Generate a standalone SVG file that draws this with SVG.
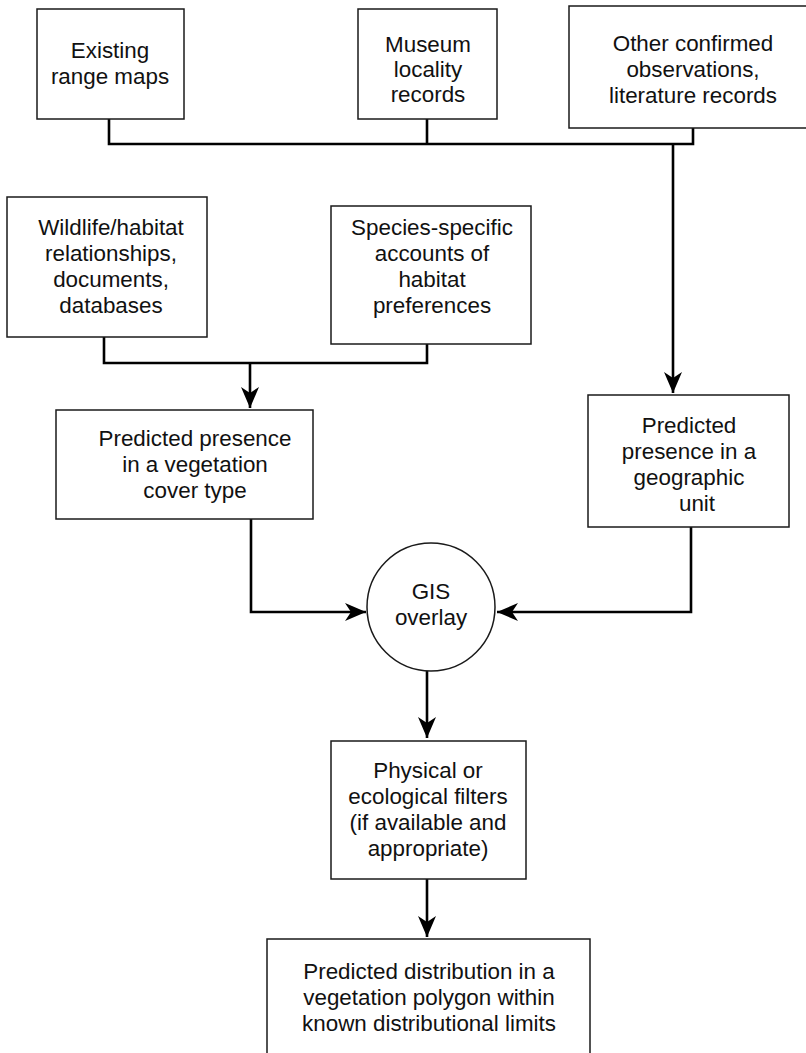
<svg xmlns="http://www.w3.org/2000/svg" width="806" height="1053" viewBox="0 0 806 1053">
  <style>
    .box { fill: #ffffff; stroke: #1a1a1a; stroke-width: 1.5; }
    .lbl { font-family: "Liberation Sans", Arial, Helvetica, sans-serif; font-size: 22.4px; fill: #111111; text-anchor: middle; }
    .wire { fill: none; stroke: #000000; stroke-width: 2.6; stroke-linejoin: miter; stroke-linecap: butt; }
  </style>
  <defs>
    <marker id="arrow" markerUnits="userSpaceOnUse" markerWidth="22" markerHeight="18" refX="21" refY="9" orient="auto" viewBox="0 0 22 18">
      <path d="M0,0 L21,9 L0,18 L6,9 z" fill="#000000"/>
    </marker>
  </defs>

  <rect width="806" height="1053" fill="#ffffff"/>

  <!-- connectors -->
  <g id="connectors">
    <path class="wire" d="M109,119 V144 H693 V128"/>
    <path class="wire" d="M427,119 V144"/>
    <path class="wire" d="M673,144 V393" marker-end="url(#arrow)"/>
    <path class="wire" d="M104,337 V363 H427 V344"/>
    <path class="wire" d="M250,363 V408" marker-end="url(#arrow)"/>
    <path class="wire" d="M251,519 V612 H366" marker-end="url(#arrow)"/>
    <path class="wire" d="M691,527 V612 H497" marker-end="url(#arrow)"/>
    <path class="wire" d="M427,671 V738" marker-end="url(#arrow)"/>
    <path class="wire" d="M427,879 V937" marker-end="url(#arrow)"/>
  </g>

  <g id="range-maps">
    <rect class="box" x="37" y="9" width="147" height="110"/>
    <text class="lbl" x="110" y="58">Existing</text>
    <text class="lbl" x="110" y="84">range maps</text>
  </g>

  <g id="museum-records">
    <rect class="box" x="358" y="9" width="139" height="110"/>
    <text class="lbl" x="428" y="52">Museum</text>
    <text class="lbl" x="428" y="77">locality</text>
    <text class="lbl" x="428" y="102">records</text>
  </g>

  <g id="other-observations">
    <rect class="box" x="569" y="6" width="248" height="122"/>
    <text class="lbl" x="693" y="51">Other confirmed</text>
    <text class="lbl" x="693" y="77">observations,</text>
    <text class="lbl" x="693" y="103">literature records</text>
  </g>

  <g id="wildlife-habitat">
    <rect class="box" x="7" y="197" width="200" height="140"/>
    <text class="lbl" x="111" y="235">Wildlife/habitat</text>
    <text class="lbl" x="111" y="261">relationships,</text>
    <text class="lbl" x="111" y="287">documents,</text>
    <text class="lbl" x="111" y="313">databases</text>
  </g>

  <g id="species-accounts">
    <rect class="box" x="331" y="206" width="200" height="138"/>
    <text class="lbl" x="432" y="235">Species-specific</text>
    <text class="lbl" x="432" y="261">accounts of</text>
    <text class="lbl" x="432" y="287">habitat</text>
    <text class="lbl" x="432" y="313">preferences</text>
  </g>

  <g id="presence-vegetation">
    <rect class="box" x="56" y="410" width="257" height="109"/>
    <text class="lbl" x="195" y="446">Predicted presence</text>
    <text class="lbl" x="195" y="472">in a vegetation</text>
    <text class="lbl" x="195" y="498">cover type</text>
  </g>

  <g id="presence-geographic">
    <rect class="box" x="588" y="395" width="201" height="132"/>
    <text class="lbl" x="689" y="433">Predicted</text>
    <text class="lbl" x="689" y="459">presence in a</text>
    <text class="lbl" x="689" y="485">geographic</text>
    <text class="lbl" x="697" y="511">unit</text>
  </g>

  <g id="gis-overlay">
    <circle class="box" cx="431" cy="607" r="64"/>
    <text class="lbl" x="431" y="599">GIS</text>
    <text class="lbl" x="431" y="625">overlay</text>
  </g>

  <g id="filters">
    <rect class="box" x="331" y="741" width="195" height="138"/>
    <text class="lbl" x="428" y="778">Physical or</text>
    <text class="lbl" x="428" y="804">ecological filters</text>
    <text class="lbl" x="428" y="830">(if available and</text>
    <text class="lbl" x="428" y="856">appropriate)</text>
  </g>

  <g id="distribution">
    <rect class="box" x="267" y="939" width="323" height="130"/>
    <text class="lbl" x="429" y="979">Predicted distribution in a</text>
    <text class="lbl" x="429" y="1005">vegetation polygon within</text>
    <text class="lbl" x="429" y="1031">known distributional limits</text>
  </g>
</svg>
